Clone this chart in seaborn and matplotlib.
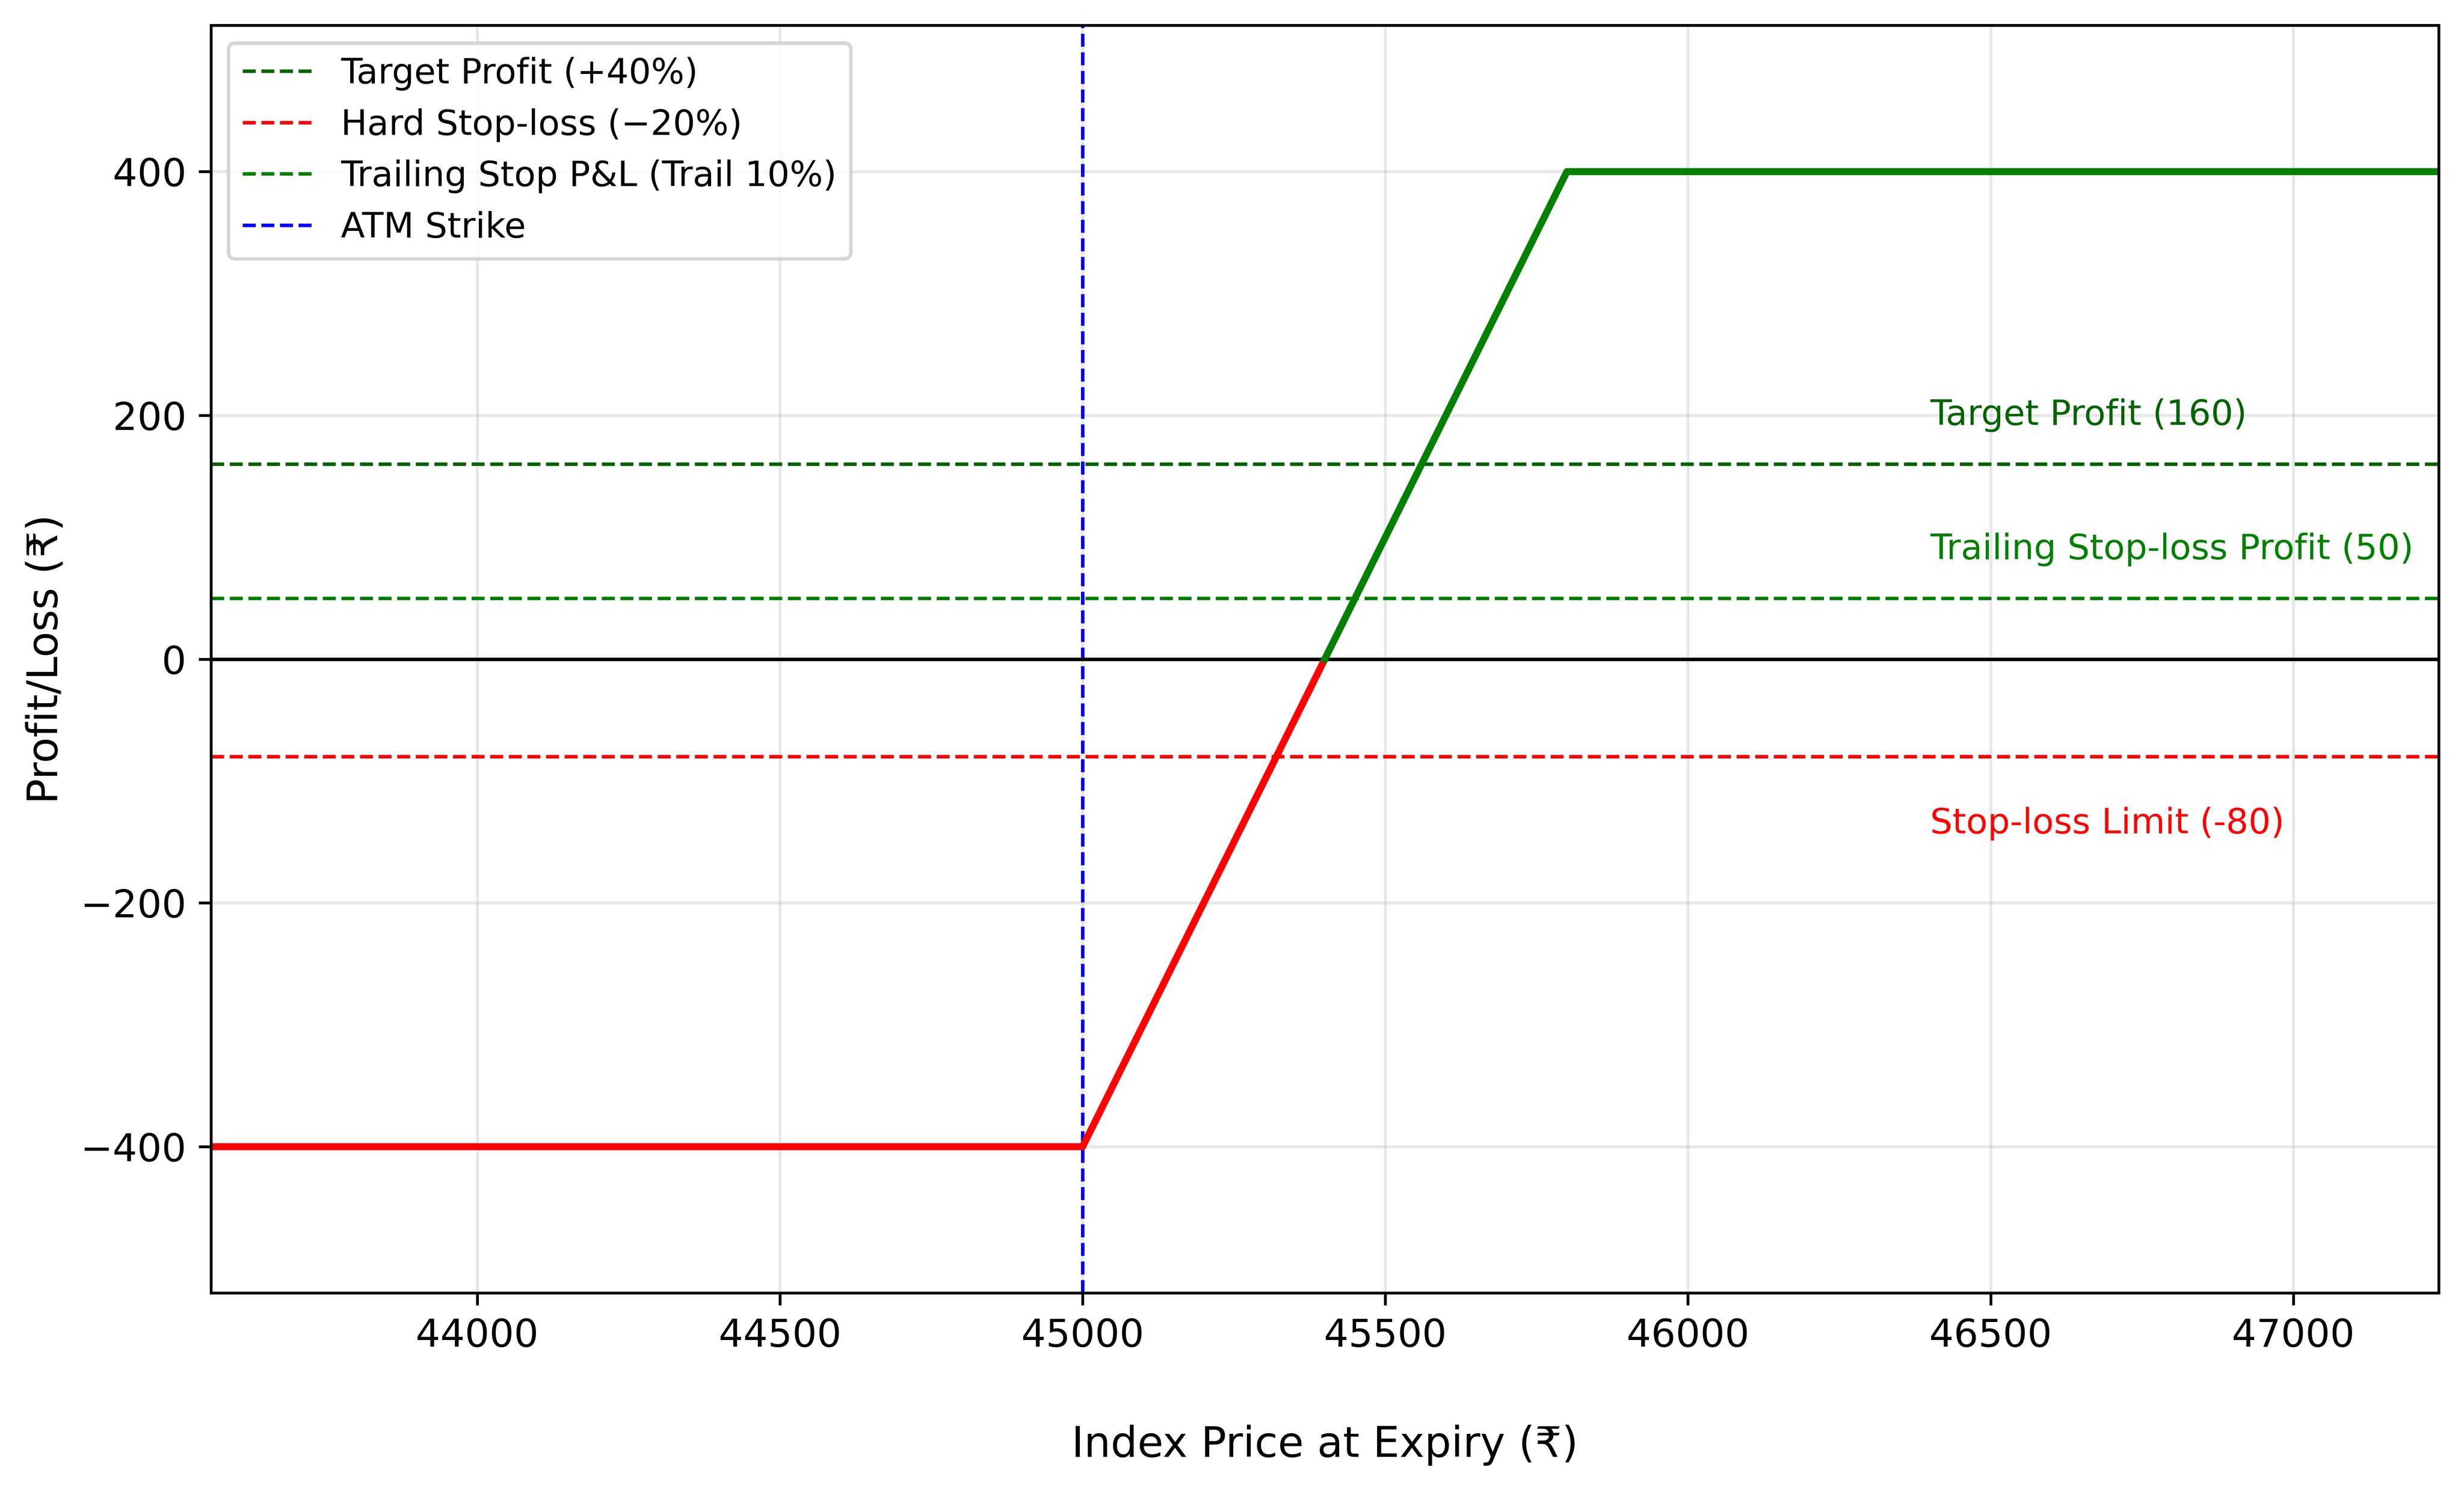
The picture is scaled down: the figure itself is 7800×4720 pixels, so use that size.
#	Bull call spread payoff with stop-loss / target levels

#Import Necessary Libraries
import pandas as pd
import seaborn as sns
from matplotlib import pyplot as plt

#Data Creation
loss_price = [43560, 45000, 45400]
loss_pnl = [-400, -400, 0]
profit_price = [45400, 45800, 47240]
profit_pnl = [0, 400, 400]

atm_strike = 45000
target_profit = 160
trail_profit = 50
stop_loss = -80

#Creating DataFrames
loss_data = pd.DataFrame({'Price': loss_price, 'PnL': loss_pnl})
profit_data = pd.DataFrame({'Price': profit_price, 'PnL': profit_pnl})

#Visualization
fig, ax = plt.subplots(figsize=(9.75, 5.9))
fig.subplots_adjust(left=0.0856, right=0.9897, bottom=0.1328, top=0.983)

ax.axhline(target_profit, color='darkgreen', linestyle='--', linewidth=1, label='Target Profit (+40%)')
ax.axhline(stop_loss, color='red', linestyle='--', linewidth=1, label='Hard Stop-loss (\u221220%)')
ax.axhline(trail_profit, color='green', linestyle='--', linewidth=1, label='Trailing Stop P&L (Trail 10%)')
ax.axvline(atm_strike, color='blue', linestyle='--', linewidth=1, label='ATM Strike')
ax.axhline(0, color='black', linewidth=1)

sns.lineplot(x='Price', y='PnL', data=loss_data, color='red', linewidth=2, legend=False, ax=ax)
sns.lineplot(x='Price', y='PnL', data=profit_data, color='green', linewidth=2, legend=False, ax=ax)

#Annotations
ax.text(46400, target_profit + 40, f'Target Profit ({target_profit})', color='darkgreen', fontsize=10, va='center')
ax.text(46400, trail_profit + 40, f'Trailing Stop-loss Profit ({trail_profit})', color='green', fontsize=10, va='center')
ax.text(46400, stop_loss - 55, f'Stop-loss Limit ({stop_loss})', color='red', fontsize=10, va='center')

#Axes
ax.set_xlim(43560, 47240)
ax.set_ylim(-520, 520)
ax.set_xlabel('Index Price at Expiry (\u20b9)', fontsize=12, labelpad=20)
ax.set_ylabel('Profit/Loss (\u20b9)', fontsize=12)
ax.tick_params(labelsize=11)
ax.grid(True, alpha=0.3)
ax.legend(loc='upper left', fontsize=10)

#Save Plot
plt.savefig('out.png', dpi=800)
